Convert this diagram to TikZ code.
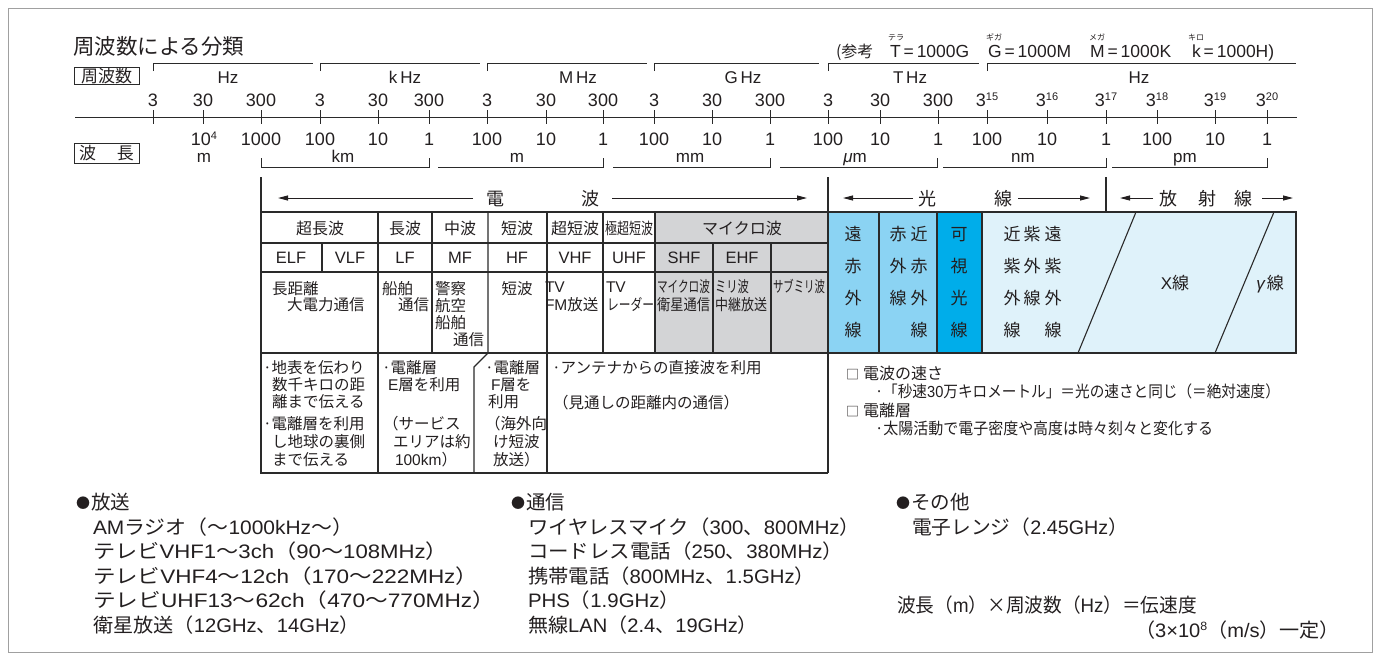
\documentclass[tikz,border=0pt]{standalone}
\usepackage{fontspec}
\usepackage{xfp}
\setmainfont{Noto Sans CJK JP}
\newfontfamily\lat{Liberation Sans}
\usetikzlibrary{arrows.meta}
\definecolor{ink}{HTML}{231F20}
\definecolor{lin}{HTML}{2A2A2A}
\definecolor{micro}{HTML}{D3D4D6}
\definecolor{irb}{HTML}{8BD3F3}
\definecolor{visb}{HTML}{00ADEA}
\definecolor{pale}{HTML}{DFF2FA}
\definecolor{frm}{HTML}{A0A0A0}
\newcommand\fs[1]{\fontsize{#1}{#1}\selectfont}
\newcommand\supx[1]{\raisebox{6pt}{\fs{11}#1}}
\newcommand\ltn[1]{{\lat #1}}
\newcommand\blt{\raisebox{1pt}{\fs{14}●}\hspace{1pt}}
\newcommand\sqb{{\fs{13}□}\hspace{4pt}}
\newlength\fitlen
\newcommand\fitx[2]{\settowidth\fitlen{#2}\edef\fitf{\fpeval{#1/\fitlen}}\scalebox{\fitf}[1]{#2}}
\begin{document}
\begin{tikzpicture}[x=1pt,y=-1pt,
  every node/.style={inner sep=0pt,outer sep=0pt,text=ink},
  num/.style={font=\lat\fs{18},anchor=base},
  unit/.style={font=\lat\fs{17},anchor=base},
  hz/.style={font=\lat\fs{17},anchor=base},
  tb/.style={font=\fs{15.5}},
  tbh/.style={font=\fs{16},anchor=base},
  tbl/.style={font=\lat\fs{16.5},anchor=base},
  band/.style={font=\fs{18},anchor=base},
  vch/.style={font=\fs{17},anchor=base},
  note/.style={font=\fs{16},anchor=base west},
  btm/.style={font=\fs{19.5},anchor=base west},
  lbl/.style={draw=lin,line width=1pt,minimum width=65pt,minimum height=17pt,
              text height=14pt,text depth=1pt,font=\fs{17}},
  ax/.style={draw=lin,line width=1pt},
  grid/.style={draw=lin,line width=1.1pt},
  arr/.style={draw=ink,line width=1pt,-{Triangle[length=10pt,width=5pt]}},
]
\useasboundingbox (0,0) rectangle (1380,665);
\draw[frm,line width=1pt] (8,8) rectangle (1372,652);

% ---------- title and reference ----------
\node[font=\fs{21.5},anchor=base west] (title) at (73,54) {周波数による分類};
\node[font=\fs{16},anchor=base west] (ref0) at (836,57) {(参考};
\node[font=\lat\fs{17.5},anchor=base west] (ref1) at (890,57) {T\,=\,1000G};
\node[font=\lat\fs{17.5},anchor=base west] (ref2) at (988,57) {G\,=\,1000M};
\node[font=\lat\fs{17.5},anchor=base west] (ref3) at (1090,57) {M\,=\,1000K};
\node[font=\lat\fs{17.5},anchor=base west] (ref4) at (1192,57) {k\,=\,1000H)};
\node[font=\fs{8},anchor=base] (rb1) at (896,40) {テラ};
\node[font=\fs{8},anchor=base] (rb2) at (994,40) {ギガ};
\node[font=\fs{8},anchor=base] (rb3) at (1097,40) {メガ};
\node[font=\fs{8},anchor=base] (rb4) at (1196,40) {キロ};

% ---------- scale ----------
\node[lbl] (lblf) at (106.5,75.5) {周波数};
\node[lbl,minimum height=20pt] (lblw) at (106.5,153) {波\hspace{21pt}長};

\foreach \a/\b in {153/313,320/480,487/647,654/819,828/979,987/1296}
  \draw[ax] (\a,71) -- (\a,63) -- (\b,63);
\node[hz] (hz1) at (228,83) {Hz};
\node[hz] (hz2) at (405,83) {k\,Hz};
\node[hz] (hz3) at (578,83) {M\,Hz};
\node[hz] (hz4) at (743,83) {G\,Hz};
\node[hz] (hz5) at (910,83) {T\,Hz};
\node[hz] (hz6) at (1139,83) {Hz};

\draw[ax] (75,117) -- (1297,117);
\foreach \x in {153,203,261,320,378,429,487,546,603,654,712,770,828,880,938,987,1047,1106,1157,1215,1267}
  \draw[ax] (\x,110) -- (\x,124);

\foreach \x/\t [count=\i] in {153/3,203/30,261/300,320/3,378/30,429/300,487/3,546/30,603/300,654/3,712/30,770/300,828/3,880/30,938/300}
  \node[num] (f\i) at (\x,106) {\t};
\foreach \x/\e [count=\i] in {987/15,1047/16,1106/17,1157/18,1215/19,1267/20}
  \node[num] (fe\i) at (\x,106) {3\supx{\e}};

\node[num] (w0) at (204,145) {10\supx{4}};
\foreach \x/\t [count=\i] in {261/1000,320/100,378/10,429/1,487/100,546/10,603/1,654/100,712/10,770/1,828/100,880/10,938/1,987/100,1047/10,1106/1,1157/100,1215/10,1267/1}
  \node[num] (w\i) at (\x,145) {\t};

\draw[ax] (261,158) -- (261,167) -- (429,167) -- (429,158);
\foreach \a/\b in {438/603,613/770,780/937,943/1106,1112/1267}
  \draw[ax] (\a,167) -- (\b,167) -- (\b,158);
\node[unit] (u0) at (204,162) {m};
\node[unit] (u1) at (343,162) {km};
\node[unit] (u2) at (517,162) {m};
\node[unit] (u3) at (690,162) {mm};
\node[unit] (u4) at (855,162) {{\itshape μ}m};
\node[unit] (u5) at (1023,162) {nm};
\node[unit] (u6) at (1185,162) {pm};

% ---------- band row ----------
\node[band] (bd1) at (495,205) {電};
\node[band] (bd2) at (590,205) {波};
\node[band] (bd3) at (927,205) {光};
\node[band] (bd4) at (1003,205) {線};
\node[band] (bd5) at (1168,205) {放};
\node[band] (bd6) at (1207,205) {射};
\node[band] (bd7) at (1243,205) {線};
\coordinate (a1s) at (473,198); \coordinate (a1e) at (278,198);
\coordinate (a2s) at (612,198); \coordinate (a2e) at (807,198);
\coordinate (a3s) at (913,198); \coordinate (a3e) at (843,198);
\coordinate (a4s) at (1018,198); \coordinate (a4e) at (1090,198);
\coordinate (a5s) at (1153,198); \coordinate (a5e) at (1120,198);
\coordinate (a6s) at (1262,198); \coordinate (a6e) at (1293,198);
\foreach \k in {1,...,6} \draw[arr] (a\k s) -- (a\k e);

% ---------- fills ----------
\fill[micro] (655,212) rectangle (828,353);
\fill[irb] (828,212) rectangle (937,353);
\fill[visb] (937,212) rectangle (982,353);
\fill[pale] (982,212) rectangle (1296,353);

% ---------- table lines ----------
\draw[grid] (261,177) -- (261,473) -- (828,473);
\draw[grid] (828,177) -- (828,473);
\draw[grid] (1106,177) -- (1106,212);
\draw[grid] (261,212) -- (1296,212) -- (1296,353) -- (261,353);
\draw[grid] (261,243) -- (828,243);
\draw[grid] (261,272) -- (828,272);
\draw[grid] (378,212) -- (378,473);
\draw[grid] (547,212) -- (547,473);
\foreach \x in {432,603,655} \draw[grid] (\x,212) -- (\x,353);
\draw[grid] (488,212) -- (488,353) -- (474,367) -- (474,473);
\draw[grid] (322,243) -- (322,272);
\foreach \x in {713,771} \draw[grid] (\x,243) -- (\x,353);
\foreach \x in {879,937,982} \draw[grid] (\x,212) -- (\x,353);
\draw[grid] (1136,212) -- (1078,353);
\draw[grid] (1274,212) -- (1215,353);

% ---------- row 1 ----------
\node[tbh] (r1a) at (320,234) {超長波};
\node[tbh] (r1b) at (405,234) {長波};
\node[tbh] (r1c) at (460,234) {中波};
\node[tbh] (r1d) at (517,234) {短波};
\node[tbh] (r1e) at (575,234) {超短波};
\node[tbh] (r1f) at (629,234) {\fitx{48pt}{極超短波}};
\node[tbh] (r1g) at (742,234) {マイクロ波};
% ---------- row 2 ----------
\foreach \x/\t [count=\i] in {291/ELF,350/VLF,405/LF,460/MF,517/HF,575/VHF,629/UHF,684/SHF,742/EHF}
  \node[tbl] (r2\i) at (\x,263.5) {\t};
% ---------- row 3 ----------
\node[tb,anchor=base west] (r3a) at (272,294) {長距離};
\node[tb,anchor=base west] (r3b) at (287,310) {大電力通信};
\node[tb,anchor=base west] (r3c) at (382,294) {船舶};
\node[tb,anchor=base east] (r3d) at (429,310) {通信};
\node[tb,anchor=base west] (r3e) at (435,294) {警察};
\node[tb,anchor=base west] (r3f) at (435,311) {航空};
\node[tb,anchor=base west] (r3g) at (435,328) {船舶};
\node[tb,anchor=base east] (r3h) at (484,345) {通信};
\node[tb,anchor=base] (r3i) at (517,294) {短波};
\node[tb,anchor=base west] (r3j) at (545,292) {\ltn{TV}};
\node[tb,anchor=base west] (r3k) at (545,310) {\ltn{FM}放送};
\node[tb,anchor=base west] (r3l) at (606,292) {\ltn{TV}};
\node[tb,anchor=base west] (r3m) at (607,310) {\fitx{47pt}{レーダー}};
\node[tb,anchor=base west] (r3n) at (657,292) {\fitx{53pt}{マイクロ波}};
\node[tb,anchor=base west] (r3o) at (657,310) {\fitx{53pt}{衛星通信}};
\node[tb,anchor=base west] (r3p) at (715,292) {\fitx{34pt}{ミリ波}};
\node[tb,anchor=base west] (r3q) at (715,310) {\fitx{52pt}{中継放送}};
\node[tb,anchor=base west] (r3r) at (773,292) {\fitx{52pt}{サブミリ波}};

% ---------- lower section ----------
\node[tb,anchor=base west] (l1a) at (263,373) {·地表を伝わり};
\node[tb,anchor=base west] (l1b) at (272,390) {数千キロの距};
\node[tb,anchor=base west] (l1c) at (272,407) {離まで伝える};
\node[tb,anchor=base west] (l1d) at (263,429) {·電離層を利用};
\node[tb,anchor=base west] (l1e) at (272,447) {し地球の裏側};
\node[tb,anchor=base west] (l1f) at (272,465) {まで伝える};
\node[tb,anchor=base west] (l2a) at (382,373) {·電離層};
\node[tb,anchor=base west] (l2b) at (388,390) {\ltn{E}層を利用};
\node[tb,anchor=base west] (l2c) at (383,429) {（サービス};
\node[tb,anchor=base west] (l2d) at (393,447) {エリアは約};
\node[tb,anchor=base west] (l2e) at (395,465) {\ltn{100km}）};
\node[tb,anchor=base west] (l3a) at (485,373) {·電離層};
\node[tb,anchor=base west] (l3b) at (491,390) {\ltn{F}層を};
\node[tb,anchor=base west] (l3c) at (488,407) {利用};
\node[tb,anchor=base west] (l3d) at (485,429) {（海外向};
\node[tb,anchor=base west] (l3e) at (493,447) {け短波};
\node[tb,anchor=base west] (l3f) at (493,465) {放送）};
\node[tb,anchor=base west] (l4a) at (552,373) {·アンテナからの直接波を利用};
\node[tb,anchor=base west] (l4b) at (553,408) {（見通しの距離内の通信）};

% ---------- light columns ----------
\foreach \c [count=\i] in {遠,赤,外,線}
  \node[vch] (ca\i) at (853,{240.5+32*(\i-1)}) {\c};
\foreach \c [count=\i] in {赤,外,線}
  \node[vch] (cb\i) at (898,{240.5+32*(\i-1)}) {\c};
\foreach \c [count=\i] in {近,赤,外,線}
  \node[vch] (cc\i) at (919,{240.5+32*(\i-1)}) {\c};
\foreach \c [count=\i] in {可,視,光,線}
  \node[vch] (cd\i) at (959,{240.5+32*(\i-1)}) {\c};
\foreach \c [count=\i] in {近,紫,外,線}
  \node[vch] (ce\i) at (1012,{240.5+32*(\i-1)}) {\c};
\foreach \c [count=\i] in {紫,外,線}
  \node[vch] (cf\i) at (1032,{240.5+32*(\i-1)}) {\c};
\foreach \c [count=\i] in {遠,紫,外,線}
  \node[vch] (cg\i) at (1053,{240.5+32*(\i-1)}) {\c};
\node[vch] (xray) at (1175,289.5) {\ltn{X}線};
\node[vch] (gray) at (1270,289.5) {{\lat\itshape γ}\hspace{2pt}線};

% ---------- notes ----------
\node[note] (n1) at (846,379.5) {\sqb 電波の速さ};
\node[note] (n2) at (875,397.8) {\fitx{405pt}{·「秒速\ltn{30}万キロメートル」＝光の速さと同じ（＝絶対速度）}};
\node[note] (n3) at (846,416.1) {\sqb 電離層};
\node[note] (n4) at (875,434.4) {\fitx{338pt}{·太陽活動で電子密度や高度は時々刻々と変化する}};

% ---------- bottom lists ----------
\node[btm] (b0) at (76,509.4) {\blt 放送};
\node[btm] (b1) at (93,534.4) {\fitx{260pt}{\ltn{AM}ラジオ（～\ltn{1000kHz}～）}};
\node[btm] (b2) at (93,558.8) {\fitx{355pt}{テレビ\ltn{VHF1}～\ltn{3ch}（\ltn{90}～\ltn{108MHz}）}};
\node[btm] (b3) at (93,583.2) {\fitx{385pt}{テレビ\ltn{VHF4}～\ltn{12ch}（\ltn{170}～\ltn{222MHz}）}};
\node[btm] (b4) at (93,607.6) {\fitx{402pt}{テレビ\ltn{UHF13}～\ltn{62ch}（\ltn{470}～\ltn{770MHz}）}};
\node[btm] (b5) at (93,632) {\fitx{267pt}{衛星放送（\ltn{12GHz}、\ltn{14GHz}）}};

\node[btm] (c0) at (511,509.4) {\blt 通信};
\node[btm] (c1) at (528,534.4) {\fitx{332pt}{ワイヤレスマイク（\ltn{300}、\ltn{800MHz}）}};
\node[btm] (c2) at (528,558.8) {\fitx{315pt}{コードレス電話（\ltn{250}、\ltn{380MHz}）}};
\node[btm] (c3) at (528,583.2) {\fitx{287pt}{携帯電話（\ltn{800MHz}、\ltn{1.5GHz}）}};
\node[btm] (c4) at (528,607.6) {\fitx{152pt}{\ltn{PHS}（\ltn{1.9GHz}）}};
\node[btm] (c5) at (528,632) {\fitx{230pt}{無線\ltn{LAN}（\ltn{2.4}、\ltn{19GHz}）}};

\node[btm] (d0) at (896,509.4) {\blt その他};
\node[btm] (d1) at (912,534.4) {\fitx{216pt}{電子レンジ（\ltn{2.45GHz}）}};
\node[btm] (d2) at (897,612.4) {\fitx{300pt}{波長（\ltn{m}）×周波数（\ltn{Hz}）＝伝速度}};
\node[btm] (d3) at (1135,637.4) {\fitx{205pt}{（\ltn{3×10}\raisebox{7pt}{\fs{12}\ltn{8}}（\ltn{m/s}）一定）}};
\end{tikzpicture}
\end{document}
